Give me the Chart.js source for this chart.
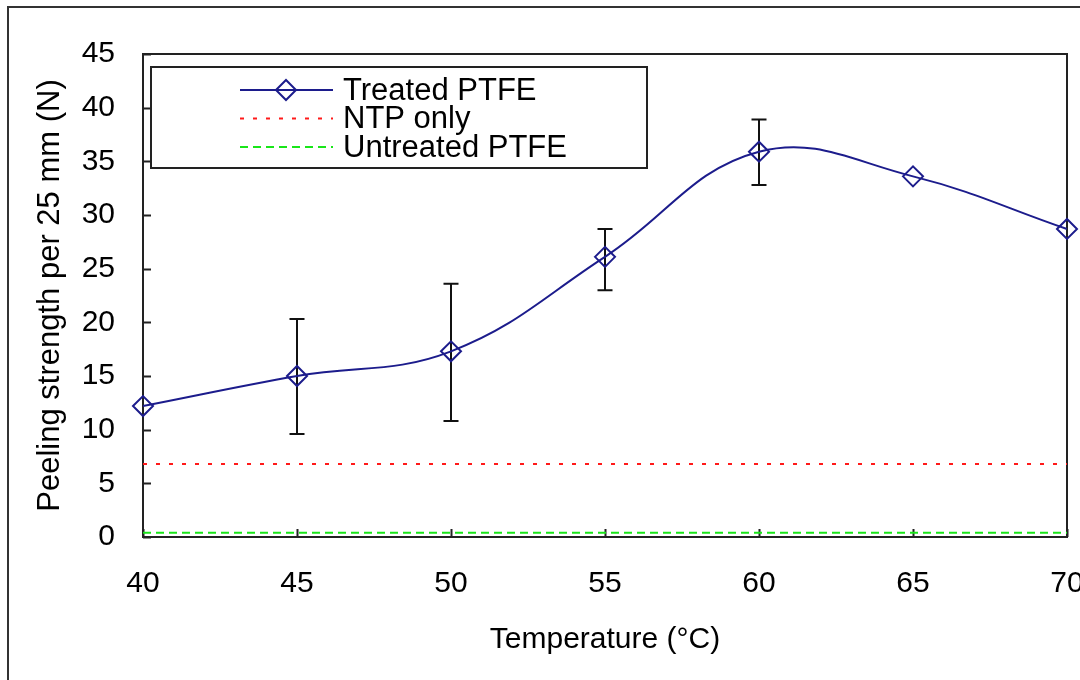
<!DOCTYPE html>
<html>
<head>
<meta charset="utf-8">
<script src="https://cdn.jsdelivr.net/npm/chart.js@4.4.0/dist/chart.umd.min.js"></script>
<style>
  html, body { margin: 0; padding: 0; background: #fff; }
  canvas { display: block; }
</style>
</head>
<body>
<canvas id="grafico" width="1080" height="680"></canvas>
<script>
// Dados
const temperaturas = [40, 45, 50, 55, 60, 65, 70];
const tratado = [12.2, 15.0, 17.3, 26.1, 35.9, 33.6, 28.7];
const erroSup = [0, 5.3, 6.3, 2.6, 3.0, 0, 0];
const erroInf = [0, 5.4, 6.5, 3.1, 3.1, 0, 0];
const ntpSomente = [6.8, 6.8];
const naoTratado = [0.4, 0.4];
const limitesX = [40, 70];
const ticksX = [40, 45, 50, 55, 60, 65, 70];
const ticksY = [0, 5, 10, 15, 20, 25, 30, 35, 40, 45];

const AZUL = '#1c1c8c';
const FONTE = "'Liberation Sans', Arial, sans-serif";

Chart.defaults.font.family = FONTE;
Chart.defaults.color = '#000';

function losango(ctx, x, y, r) {
    ctx.beginPath();
    ctx.moveTo(x - r, y);
    ctx.lineTo(x, y - r);
    ctx.lineTo(x + r, y);
    ctx.lineTo(x, y + r);
    ctx.closePath();
    ctx.stroke();
}

// Moldura, marcas internas, barras de erro e legenda
const molduraPlugin = {
    id: 'moldura',
    beforeDraw(chart) {
        const ctx = chart.ctx;
        ctx.save();
        ctx.fillStyle = '#fff';
        ctx.fillRect(0, 0, chart.width, chart.height);
        ctx.strokeStyle = '#333';
        ctx.lineWidth = 2;
        ctx.strokeRect(8, 7, 1300, 1000);
        ctx.restore();
    },
    beforeDatasetsDraw(chart) {
        const ctx = chart.ctx;
        const area = chart.chartArea;
        const sx = chart.scales.x;
        const sy = chart.scales.y;
        ctx.save();
        ctx.strokeStyle = '#222';
        ctx.lineWidth = 2;
        ctx.strokeRect(area.left, area.top, area.right - area.left, area.bottom - area.top);

        ctx.beginPath();
        sy.ticks.forEach(t => {
            const py = Math.round(sy.getPixelForValue(t.value)) + 0.5;
            ctx.moveTo(area.left, py);
            ctx.lineTo(area.left + 8, py);
        });
        sx.ticks.forEach(t => {
            const px = Math.round(sx.getPixelForValue(t.value)) + 0.5;
            ctx.moveTo(px, area.bottom);
            ctx.lineTo(px, area.bottom - 8);
        });
        ctx.stroke();

        // barras de erro
        ctx.strokeStyle = '#111';
        ctx.lineWidth = 2;
        ctx.beginPath();
        temperaturas.forEach((t, i) => {
            if (!erroSup[i] && !erroInf[i]) return;
            const px = sx.getPixelForValue(t);
            const topo = sy.getPixelForValue(tratado[i] + erroSup[i]);
            const base = sy.getPixelForValue(tratado[i] - erroInf[i]);
            ctx.moveTo(px, topo);
            ctx.lineTo(px, base);
            ctx.moveTo(px - 7.5, topo);
            ctx.lineTo(px + 7.5, topo);
            ctx.moveTo(px - 7.5, base);
            ctx.lineTo(px + 7.5, base);
        });
        ctx.stroke();
        ctx.restore();
    },
    afterDraw(chart) {
        const ctx = chart.ctx;
        ctx.save();
        ctx.fillStyle = '#fff';
        ctx.fillRect(151, 67, 496, 101);
        ctx.strokeStyle = '#222';
        ctx.lineWidth = 2;
        ctx.strokeRect(151, 67, 496, 101);

        ctx.font = '31px ' + FONTE;
        ctx.textBaseline = 'middle';
        ctx.textAlign = 'left';
        chart.data.datasets.forEach((ds, i) => {
            const ly = 90 + i * 28.5;
            ctx.strokeStyle = ds.borderColor;
            ctx.lineWidth = ds.borderWidth;
            ctx.setLineDash(ds.borderDash || []);
            ctx.beginPath();
            ctx.moveTo(240, ly);
            ctx.lineTo(333, ly);
            ctx.stroke();
            ctx.setLineDash([]);
            if (i === 0) {
                losango(ctx, 286, ly, 10);
            }
            ctx.fillStyle = '#000';
            ctx.fillText(ds.label, 343, ly + 1);
        });
        ctx.restore();
    }
};

new Chart(document.getElementById('grafico'), {
    type: 'line',
    data: {
        datasets: [
            {
                label: 'Treated PTFE',
                data: temperaturas.map((t, i) => ({ x: t, y: tratado[i] })),
                borderColor: AZUL,
                borderWidth: 2,
                tension: 0.4,
                pointStyle: 'rectRot',
                pointRadius: 10,
                pointBorderWidth: 2,
                pointBorderColor: AZUL,
                pointBackgroundColor: 'rgba(0,0,0,0)',
                clip: false
            },
            {
                label: 'NTP only',
                data: limitesX.map((t, i) => ({ x: t, y: ntpSomente[i] })),
                borderColor: '#ff1a1a',
                borderWidth: 2,
                borderDash: [4, 9],
                pointRadius: 0
            },
            {
                label: 'Untreated PTFE',
                data: limitesX.map((t, i) => ({ x: t, y: naoTratado[i] })),
                borderColor: '#19e619',
                borderWidth: 2,
                borderDash: [8, 5],
                pointRadius: 0
            }
        ]
    },
    options: {
        responsive: false,
        animation: false,
        layout: { padding: { top: 54, right: 13, left: 0, bottom: 0 } },
        plugins: {
            legend: { display: false },
            tooltip: { enabled: false }
        },
        scales: {
            x: {
                type: 'linear',
                min: 40,
                max: 70,
                afterBuildTicks: s => { s.ticks = ticksX.map(v => ({ value: v })); },
                afterFit: s => { s.height = 143; s.paddingLeft = 0; s.paddingRight = 0; },
                grid: { display: false, drawTicks: false },
                border: { display: false },
                ticks: { font: { size: 30 }, padding: 29, maxRotation: 0 },
                title: {
                    display: true,
                    text: 'Temperature (°C)',
                    font: { size: 30 },
                    padding: { top: 0, bottom: 22 }
                }
            },
            y: {
                min: 0,
                max: 45,
                afterBuildTicks: s => { s.ticks = ticksY.map(v => ({ value: v })); },
                afterFit: s => { s.width = 143; },
                grid: { display: false, drawTicks: false },
                border: { display: false },
                ticks: { font: { size: 30 }, padding: 28 },
                title: {
                    display: true,
                    text: 'Peeling strength per 25 mm (N)',
                    font: { size: 31 },
                    padding: { top: 32, bottom: 0 }
                }
            }
        }
    },
    plugins: [molduraPlugin]
});
</script>
</body>
</html>
